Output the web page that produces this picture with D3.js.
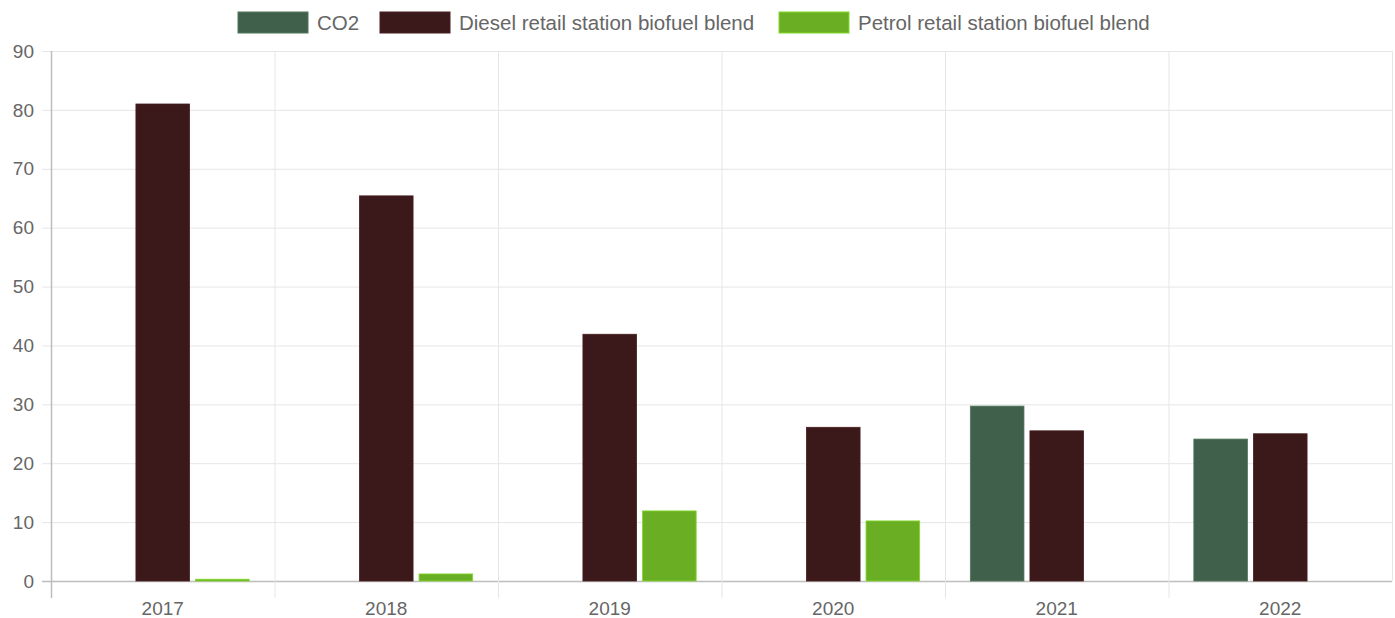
<!DOCTYPE html>
<html><head><meta charset="utf-8">
<script src="https://cdn.jsdelivr.net/npm/d3@7"></script>
<style>body{margin:0;background:#fff}svg{display:block}text{font-family:"Liberation Sans",Arial,sans-serif;fill:#666}</style>
</head><body>
<svg id="c" width="1395" height="618"></svg>
<script>
const categories = ["2017","2018","2019","2020","2021","2022"];
const seriesNames = ["CO2","Diesel retail station biofuel blend","Petrol retail station biofuel blend"];
const seriesColors = ["#41604b","#3b181a","#6aaf23"];
const co2 = [null,null,null,null,29.7,24.1];
const diesel = [81.0,65.4,41.9,26.1,25.5,25.0];
const petrol = [0.3,1.2,11.9,10.2,null,null];
const yTicks = [0,10,20,30,40,50,60,70,80,90];
const series = [co2, diesel, petrol];

const svg = d3.select("#c");
const m = {l:51, r:1392, t:51, b:581};
const x = d3.scaleBand().domain(categories).range([m.l, m.r]);
const y = d3.scaleLinear().domain([0,90]).range([m.b, m.t]);

// grid
const g = svg.append("g");
yTicks.forEach(t => {
  g.append("line").attr("x1", m.l-9).attr("x2", m.r).attr("y1", y(t)+0.5).attr("y2", y(t)+0.5)
   .attr("stroke", t===0 ? "#bdbdbd" : "#e6e6e6").attr("stroke-width", t===0?1.5:1);
  svg.append("text").attr("x", 34).attr("y", y(t)).attr("dy","0.35em").attr("text-anchor","end")
   .attr("font-size", 19).text(t);
});
categories.forEach((c,i) => {
  const xx = x(c);
  if (i>0) g.append("line").attr("x1", xx+0.5).attr("x2", xx+0.5).attr("y1", m.t).attr("y2", m.b+17).attr("stroke","#e6e6e6");
  svg.append("text").attr("x", xx + x.bandwidth()/2).attr("y", 608).attr("dy","0.35em").attr("text-anchor","middle")
   .attr("font-size", 19).text(c);
});
g.append("line").attr("x1", m.r+0.5).attr("x2", m.r+0.5).attr("y1", m.t).attr("y2", m.b).attr("stroke","#e6e6e6");
g.append("line").attr("x1", m.l+0.5).attr("x2", m.l+0.5).attr("y1", m.t).attr("y2", m.b+17).attr("stroke","#bdbdbd").attr("stroke-width",1.5);

// bars: category 0.8, bar 0.9
const slot = x.bandwidth()*0.8/3;
const bw = slot*0.9;
series.forEach((s, si) => {
  svg.append("g").selectAll("rect").data(categories.map((c,i)=>({c, v:s[i]})).filter(d=>d.v!=null))
    .join("rect")
    .attr("x", d => x(d.c) + x.bandwidth()*0.1 + si*slot + (slot-bw)/2)
    .attr("width", bw)
    .attr("y", d => y(d.v))
    .attr("height", d => Math.max(0, y(0)-y(d.v)))
    .attr("fill", seriesColors[si])
    .attr("stroke", d3.color(seriesColors[si]).brighter(0.6)).attr("stroke-width", 0.8);
});

// legend
const lg = svg.append("g");
const legendX = [238, 380, 779];
seriesNames.forEach((n,i) => {
  lg.append("rect").attr("x", legendX[i]).attr("y", 12).attr("width", 70).attr("height", 21)
    .attr("fill", seriesColors[i]).attr("stroke", d3.color(seriesColors[i]).brighter(0.6)).attr("stroke-width",1);
  lg.append("text").attr("x", legendX[i]+79).attr("y", 22.5).attr("dy","0.35em").attr("font-size",20.5).text(n);
});
</script>
</body></html>
